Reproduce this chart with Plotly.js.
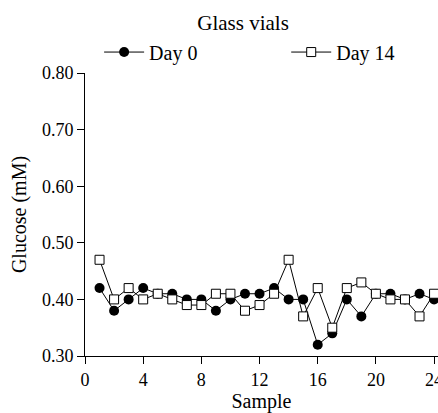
<!DOCTYPE html>
<html>
<head>
<meta charset="utf-8">
<script src="https://cdn.plot.ly/plotly-3.0.1.min.js"></script>
<style>html,body{margin:0;padding:0;background:#fff;}#chart{width:438px;height:413px;}</style>
</head>
<body>
<div id="chart"></div>
<script>
const samples = [1,2,3,4,5,6,7,8,9,10,11,12,13,14,15,16,17,18,19,20,21,22,23,24];
const day0 =  [0.42,0.38,0.40,0.42,0.41,0.41,0.40,0.40,0.38,0.40,0.41,0.41,0.42,0.40,0.40,0.32,0.34,0.40,0.37,0.41,0.41,0.40,0.41,0.40];
const day14 = [0.47,0.40,0.42,0.40,0.41,0.40,0.39,0.39,0.41,0.41,0.38,0.39,0.41,0.47,0.37,0.42,0.35,0.42,0.43,0.41,0.40,0.40,0.37,0.41];
const xTicks = [0,4,8,12,16,20,24];
const yTicks = [0.30,0.40,0.50,0.60,0.70,0.80];

const font = {family: '"Liberation Serif", "Times New Roman", serif', color: '#000'};

const traces = [
  {x: samples, y: day0, name: 'Day 0', mode: 'lines+markers', type: 'scatter', legend: 'legend',
   line: {color: '#000', width: 1},
   marker: {symbol: 'circle', size: 10, color: '#000'}, cliponaxis: false},
  {x: samples, y: day14, name: 'Day 14', mode: 'lines+markers', type: 'scatter', legend: 'legend2',
   line: {color: '#000', width: 1},
   marker: {symbol: 'square', size: 9, color: '#fff', line: {color: '#000', width: 1}}, cliponaxis: false}
];

function legendAt(x) {
  return {orientation: 'h', x: x, xanchor: 'left', y: 1.074, yanchor: 'middle', itemwidth: 40,
          font: Object.assign({size: 20}, font), bgcolor: 'rgba(0,0,0,0)'};
}

const layout = {
  width: 438, height: 413,
  margin: {l: 85, r: 0, t: 73, b: 57},
  paper_bgcolor: '#fff', plot_bgcolor: '#fff',
  font: Object.assign({size: 18}, font),
  title: {text: 'Glass vials', font: Object.assign({size: 21}, font),
          xref: 'container', yref: 'container', x: 0.555, xanchor: 'center', y: 0.945, yanchor: 'middle'},
  showlegend: true,
  legend: legendAt(0.04),
  legend2: legendAt(0.57),
  xaxis: {range: [0, 24.27], tickvals: xTicks, ticktext: xTicks.map(String), ticklabeloverflow: 'allow',
          showline: true, linecolor: '#000', linewidth: 1, ticks: 'outside', ticklen: 7, tickcolor: '#000',
          showgrid: false, zeroline: false, tickfont: Object.assign({size: 18}, font),
          title: {text: 'Sample', font: Object.assign({size: 20}, font), standoff: 6}},
  yaxis: {range: [0.30, 0.80], tickvals: yTicks, tickformat: '.2f',
          showline: true, linecolor: '#000', linewidth: 1, ticks: 'outside', ticklen: 7, tickcolor: '#000',
          showgrid: false, zeroline: false, tickfont: Object.assign({size: 18}, font),
          title: {text: 'Glucose (mM)', font: Object.assign({size: 20}, font), standoff: 9}}
};

Plotly.newPlot('chart', traces, layout, {displayModeBar: false, staticPlot: true});
</script>
</body>
</html>
